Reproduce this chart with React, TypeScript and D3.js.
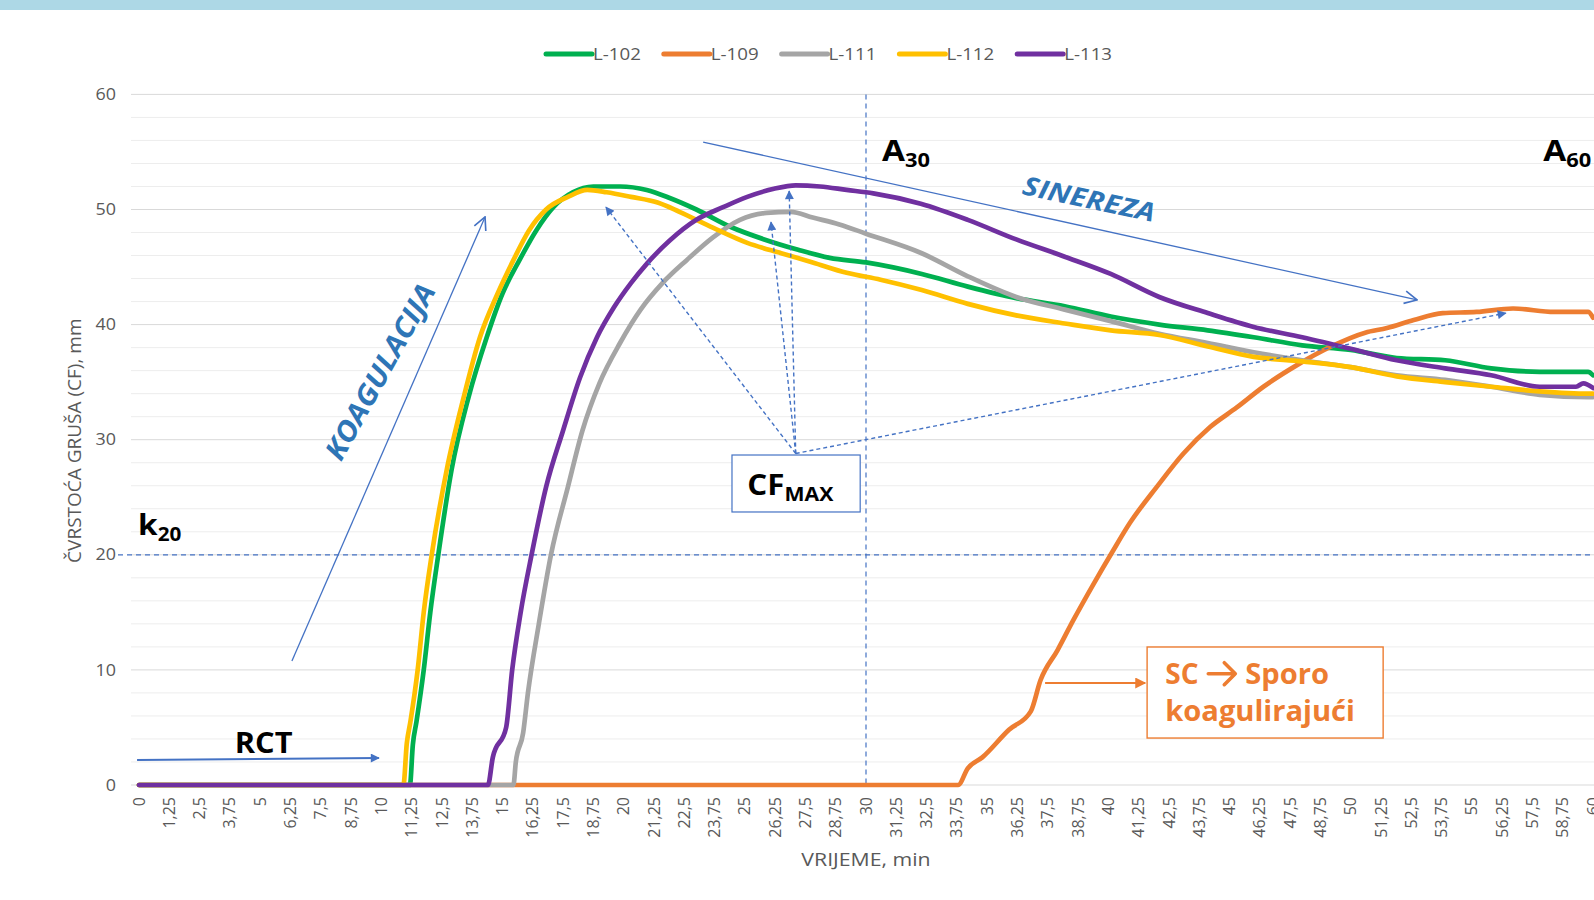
import React from 'react';
import * as d3 from 'd3';

// ---------- DATA ----------
const X_TICK_LABELS = ["0","1,25","2,5","3,75","5","6,25","7,5","8,75","10","11,25","12,5","13,75","15","16,25","17,5","18,75","20","21,25","22,5","23,75","25","26,25","27,5","28,75","30","31,25","32,5","33,75","35","36,25","37,5","38,75","40","41,25","42,5","43,75","45","46,25","47,5","48,75","50","51,25","52,5","53,75","55","56,25","57,5","58,75","60"];
const Y_TICKS = [0, 10, 20, 30, 40, 50, 60];
const Y_MINOR = [2, 4, 6, 8, 12, 14, 16, 18, 22, 24, 26, 28, 32, 34, 36, 38, 42, 44, 46, 48, 52, 54, 56, 58];

const SERIES_NAMES = ["L-102", "L-109", "L-111", "L-112", "L-113"];
const SERIES_COLORS = ["#00B050", "#ED7D31", "#A5A5A5", "#FFC000", "#7030A0"];

const L102_T = [0, 11.18, 11.3, 11.45, 11.75, 12.02, 12.35, 12.9, 13.6, 14.35, 15.0, 15.7, 16.4, 17.1, 17.9, 18.75, 19.85, 20.95, 21.9, 23.0, 24.4, 25.8, 27.2, 28.5, 30, 32.3, 34.2, 36.2, 38.2, 40.1, 42.1, 44.1, 46.0, 48.0, 50.0, 51.9, 53.9, 55.8, 57.8, 59.8, 60];
const L102_V = [0, 0, 3.5, 5.5, 10, 15, 20, 27.4, 33.7, 38.9, 42.7, 45.6, 48.2, 50.2, 51.5, 52.0, 52.0, 51.7, 51.0, 50.0, 48.5, 47.4, 46.5, 45.8, 45.4, 44.4, 43.3, 42.3, 41.6, 40.7, 40.0, 39.5, 38.9, 38.2, 37.8, 37.1, 36.9, 36.2, 35.9, 35.9, 35.6];

const L109_T = [0, 33.8, 34.2, 34.8, 35.9, 36.8, 37.2, 37.9, 38.55, 39.4, 40.15, 40.9, 42.0, 43.1, 44.2, 45.3, 46.4, 47.8, 49.2, 50.6, 51.5, 52.6, 53.8, 55.2, 56.7, 58.4, 59.8, 60];
const L109_V = [0, 0, 1.45, 2.4, 4.8, 6.4, 9.1, 11.7, 14.3, 17.5, 20.2, 22.8, 25.9, 28.8, 31.1, 32.8, 34.6, 36.5, 38.1, 39.3, 39.7, 40.4, 41.0, 41.1, 41.4, 41.1, 41.1, 40.6];

const L111_T = [0, 15.45, 15.55, 15.85, 16.05, 16.5, 17.0, 17.7, 18.3, 19.0, 19.85, 20.7, 21.6, 22.6, 23.7, 24.8, 25.9, 26.9, 27.8, 28.9, 30.0, 32.3, 34.2, 36.2, 38.2, 40.1, 42.1, 44.1, 46.0, 48.0, 50.0, 51.9, 53.9, 55.8, 57.8, 59.8, 60];
const L111_V = [0, 0, 2, 4.5, 8, 14, 20, 25.9, 30.8, 34.9, 38.4, 41.3, 43.6, 45.6, 47.6, 49.1, 49.7, 49.8, 49.3, 48.7, 47.9, 46.2, 44.2, 42.4, 41.3, 40.3, 39.2, 38.4, 37.6, 36.9, 36.3, 35.6, 35.2, 34.6, 33.9, 33.7, 33.7];

const L112_T = [0, 10.91, 11.05, 11.2, 11.5, 11.75, 12.08, 12.7, 13.4, 14.07, 14.8, 15.45, 16.1, 16.8, 17.7, 18.5, 19.3, 20.3, 21.4, 22.3, 23.7, 25.1, 26.5, 27.8, 29.2, 30.6, 32.3, 34.2, 36.2, 38.2, 40.1, 42.1, 44.1, 46.0, 48.0, 50.0, 51.9, 53.9, 55.8, 57.8, 59.8, 60];
const L112_V = [0, 0, 3.6, 5.5, 10, 15, 20, 27.4, 33.7, 38.9, 42.7, 45.6, 48.2, 50.0, 51.1, 51.7, 51.5, 51.1, 50.6, 49.8, 48.4, 47.1, 46.2, 45.4, 44.5, 43.9, 43.0, 41.8, 40.8, 40.1, 39.5, 39.1, 38.1, 37.2, 36.8, 36.3, 35.5, 35.0, 34.6, 34.2, 34.0, 34.0];

const L113_T = [0, 14.4, 14.6, 15.15, 15.4, 15.75, 16.2, 16.8, 17.5, 18.2, 18.9, 19.6, 20.3, 20.96, 21.9, 23.0, 24.1, 25.1, 26.2, 27.1, 28.1, 29.2, 30.3, 32.26, 34.2, 36.2, 38.2, 40.1, 42.1, 44.1, 46.0, 48.0, 50.0, 51.9, 53.9, 55.8, 57.8, 59.3, 59.6, 60];
const L113_V = [0, 0, 2.4, 5, 10, 15, 20, 25.9, 30.8, 35.4, 38.9, 41.5, 43.6, 45.3, 47.3, 49.1, 50.2, 51.1, 51.8, 52.1, 52.0, 51.7, 51.4, 50.5, 49.1, 47.4, 45.9, 44.4, 42.4, 41.0, 39.8, 38.9, 37.9, 36.9, 36.2, 35.6, 34.6, 34.6, 34.9, 34.5];

const SERIES_T = [L102_T, L109_T, L111_T, L112_T, L113_T];
const SERIES_V = [L102_V, L109_V, L111_V, L112_V, L113_V];

// annotation anchors in data units [time, value]
const CF_ORIGIN: [number, number] = [27.1, 28.8];
const CF_TARGETS: [number, number][] = [[19.27, 50.2], [26.08, 48.9], [26.83, 51.6], [56.4, 41.0]];

const BLUE = "#4472C4";
const TEXT_BLUE = "#2E75B6";
const ORANGE = "#ED7D31";
const AXIS_TEXT = "#595959";
const FONT = "'Open Sans', 'Liberation Sans', sans-serif";

function Stretch({ x, y, sx = 1, rotate = 0, children }: { x: number; y: number; sx?: number; rotate?: number; children: React.ReactNode }) {
  return <g transform={`translate(${x},${y}) rotate(${rotate}) scale(${sx},1)`}>{children}</g>;
}

export default function App() {
  const x = d3.scaleLinear().domain([0, 60]).range([139, 1593]);
  const y = d3.scaleLinear().domain([0, 60]).range([785, 94.4]);
  const line = d3.line<[number, number]>()
    .x(d => x(d[0]))
    .y(d => y(d[1]))
    .curve(d3.curveMonotoneX);

  const gridLeft = 131;
  const gridRight = 1594;

  const xTicks = X_TICK_LABELS.map(l => ({ label: l, value: parseFloat(l.replace(',', '.')) }));

  const legendX0 = 546;
  const legendStep = 117.8;

  const koagA: [number, number] = [6.31, 10.77];
  const koagB: [number, number] = [14.28, 49.35];
  const sinA: [number, number] = [23.28, 55.86];
  const sinB: [number, number] = [52.74, 42.14];

  const scX = x(42.35);
  const scY1 = y(8.8);

  return (
    <svg width={1594} height={900} style={{ position: 'absolute', left: 0, top: 0, background: '#fff' }}
      fontFamily={FONT}>
      <defs>
        <marker id="triBlue" viewBox="0 0 10 10" refX="9" refY="5" markerWidth="11" markerHeight="9"
          markerUnits="userSpaceOnUse" orient="auto">
          <path d="M0,0 L10,5 L0,10 z" fill={BLUE} />
        </marker>
        <marker id="triOrange" viewBox="0 0 10 10" refX="9" refY="5" markerWidth="13" markerHeight="11"
          markerUnits="userSpaceOnUse" orient="auto">
          <path d="M0,0 L10,5 L0,10 z" fill={ORANGE} />
        </marker>
        <marker id="openBlue" viewBox="0 0 12 12" refX="11" refY="6" markerWidth="15" markerHeight="15"
          markerUnits="userSpaceOnUse" orient="auto">
          <path d="M1,1 L11,6 L1,11" fill="none" stroke={BLUE} strokeWidth="1.3" />
        </marker>
      </defs>

      <rect x={0} y={0} width={1594} height={10} fill="#ADD8E6" />

      {/* minor gridlines */}
      {Y_MINOR.map(v => (
        <line key={'m' + v} x1={gridLeft} x2={gridRight} y1={y(v)} y2={y(v)} stroke="#EDEDED" strokeWidth={1} />
      ))}
      {/* major gridlines */}
      {Y_TICKS.map(v => (
        <line key={'g' + v} x1={gridLeft} x2={gridRight} y1={y(v)} y2={y(v)} stroke="#D9D9D9" strokeWidth={1} />
      ))}

      {/* y tick labels */}
      {Y_TICKS.map(v => (
        <Stretch key={'yt' + v} x={116} y={y(v)} sx={1.12}>
          <text x={0} y={0} dy="0.35em" textAnchor="end" fontSize={16} fill={AXIS_TEXT}>{v}</text>
        </Stretch>
      ))}

      {/* x tick labels */}
      {xTicks.map(t => (
        <text key={'xt' + t.label} transform={`translate(${x(t.value)},${797}) rotate(-90)`}
          textAnchor="end" dy="0.35em" fontSize={16} fill={AXIS_TEXT}>{t.label}</text>
      ))}

      {/* axis titles */}
      <Stretch x={x(30)} y={866} sx={1.12}>
        <text x={0} y={0} textAnchor="middle" fontSize={19} fill={AXIS_TEXT}>VRIJEME, min</text>
      </Stretch>
      <text transform={`translate(81,${y(30) + 1}) rotate(-90)`} textAnchor="middle" fontSize={19} fill={AXIS_TEXT}>ČVRSTOĆA GRUŠA (CF), mm</text>

      {/* reference dashed lines */}
      <line x1={x(30)} x2={x(30)} y1={y(60)} y2={y(0)} stroke={BLUE} strokeWidth={1.2} strokeDasharray="5,4" />
      <line x1={118} x2={gridRight} y1={y(20)} y2={y(20)} stroke={BLUE} strokeWidth={1.2} strokeDasharray="5,4" />

      {/* series */}
      {SERIES_NAMES.map((name, i) => {
        const pts: [number, number][] = SERIES_T[i].map((t, j) => [t, SERIES_V[i][j]]);
        return (
          <path key={name} d={line(pts) || ''} fill="none" stroke={SERIES_COLORS[i]} strokeWidth={4.7}
            strokeLinejoin="round" strokeLinecap="round" />
        );
      })}

      {/* legend */}
      {SERIES_NAMES.map((name, i) => {
        const lx = legendX0 + i * legendStep;
        return (
          <g key={'lg' + name}>
            <line x1={lx} x2={lx + 46} y1={54} y2={54} stroke={SERIES_COLORS[i]} strokeWidth={5} strokeLinecap="round" />
            <Stretch x={lx + 47} y={54} sx={1.1}>
              <text x={0} y={0} dy="0.35em" fontSize={17} fill={AXIS_TEXT}>{name}</text>
            </Stretch>
          </g>
        );
      })}

      {/* A30 / A60 / k20 labels */}
      <Stretch x={x(30.66)} y={y(54.2)} sx={1.15}>
        <text x={0} y={0} fontSize={29} fontWeight="bold" fill="#000">A<tspan fontSize={19} dy={6}>30</tspan></text>
      </Stretch>
      <Stretch x={x(57.95)} y={y(54.2)} sx={1.15}>
        <text x={0} y={0} fontSize={29} fontWeight="bold" fill="#000">A<tspan fontSize={19} dy={6}>60</tspan></text>
      </Stretch>
      <Stretch x={x(-0.04)} y={y(21.7)} sx={1.09}>
        <text x={0} y={0} fontSize={29} fontWeight="bold" fill="#000">k<tspan fontSize={19} dy={6}>20</tspan></text>
      </Stretch>

      {/* RCT */}
      <line x1={x(-0.08)} y1={y(2.17)} x2={x(9.9)} y2={y(2.35)} stroke={BLUE} strokeWidth={2} markerEnd="url(#triBlue)" />
      <Stretch x={x(3.95)} y={y(2.75)} sx={1.1}>
        <text x={0} y={0} fontSize={28} fontWeight="bold" fill="#000">RCT</text>
      </Stretch>

      {/* KOAGULACIJA */}
      <line x1={x(koagA[0])} y1={y(koagA[1])} x2={x(koagB[0])} y2={y(koagB[1])} stroke={BLUE} strokeWidth={1.3} markerEnd="url(#openBlue)" />
      <Stretch x={x(9.95)} y={y(35.9)} rotate={-61} sx={1.1}>
        <text x={0} y={0} textAnchor="middle" dy="0.35em"
          fontSize={28} fontWeight="bold" fontStyle="italic" fill={TEXT_BLUE}>KOAGULACIJA</text>
      </Stretch>

      {/* SINEREZA */}
      <line x1={x(sinA[0])} y1={y(sinA[1])} x2={x(sinB[0])} y2={y(sinB[1])} stroke={BLUE} strokeWidth={1.3} markerEnd="url(#openBlue)" />
      <Stretch x={x(39.2)} y={y(50.9)} rotate={12} sx={1.16}>
        <text x={0} y={0} textAnchor="middle" dy="0.35em"
          fontSize={26} fontWeight="bold" fontStyle="italic" fill={TEXT_BLUE}>SINEREZA</text>
      </Stretch>

      {/* CF MAX dashed arrows */}
      {CF_TARGETS.map((tg, i) => (
        <line key={'cf' + i} x1={x(CF_ORIGIN[0])} y1={y(CF_ORIGIN[1])} x2={x(tg[0])} y2={y(tg[1])}
          stroke={BLUE} strokeWidth={1.4} strokeDasharray="4,3" markerEnd="url(#triBlue)" />
      ))}
      <rect x={x(24.47)} y={y(28.67)} width={x(29.76) - x(24.47)} height={y(23.72) - y(28.67)}
        fill="#fff" stroke={BLUE} strokeWidth={1.2} />
      <Stretch x={x(25.1)} y={y(25.2)} sx={1.12}>
        <text x={0} y={0} fontSize={28} fontWeight="bold" fill="#000">CF<tspan fontSize={19} dy={6}>MAX</tspan></text>
      </Stretch>

      {/* SC box */}
      <line x1={x(37.39)} y1={y(8.86)} x2={x(41.52)} y2={y(8.86)} stroke={ORANGE} strokeWidth={2} markerEnd="url(#triOrange)" />
      <rect x={x(41.6)} y={y(11.99)} width={x(51.34) - x(41.6)} height={y(4.08) - y(11.99)}
        fill="#fff" stroke={ORANGE} strokeWidth={1.4} />
      <Stretch x={scX} y={scY1} sx={1.0}>
        <text x={0} y={0} fontSize={28} fontWeight="bold" fill={ORANGE}>SC</text>
      </Stretch>
      <path d={`M${scX + 43},${scY1 - 10} L${scX + 70},${scY1 - 10} M${scX + 59},${scY1 - 21} L${scX + 70},${scY1 - 10} L${scX + 59},${scY1 + 1}`}
        fill="none" stroke={ORANGE} strokeWidth={3.6} strokeLinecap="round" strokeLinejoin="round" />
      <Stretch x={scX + 80} y={scY1} sx={1.04}>
        <text x={0} y={0} fontSize={28} fontWeight="bold" fill={ORANGE}>Sporo</text>
      </Stretch>
      <Stretch x={scX} y={y(5.6)} sx={1.04}>
        <text x={0} y={0} fontSize={28} fontWeight="bold" fill={ORANGE}>koagulirajući</text>
      </Stretch>
    </svg>
  );
}
